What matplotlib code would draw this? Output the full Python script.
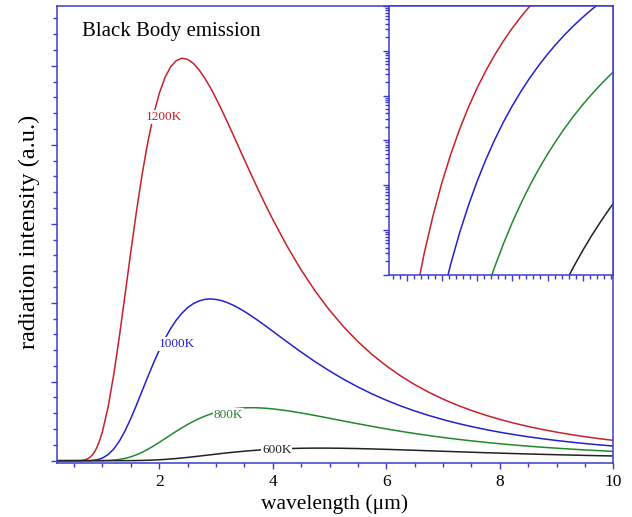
import matplotlib
matplotlib.use("Agg")
import matplotlib.pyplot as plt
from matplotlib.ticker import MultipleLocator, LogLocator, NullFormatter

plt.rcParams['font.family'] = ['Liberation Serif', 'DejaVu Serif']

# spectral radiance, W m^-2 sr^-1 um^-1, sampled at these wavelengths (um)
wavelength = [0.2, 0.3, 0.325, 0.35, 0.375, 0.4, 0.425, 0.45, 0.475, 0.5, 0.525,
              0.55, 0.575, 0.6, 0.625, 0.65, 0.675, 0.7, 0.725, 0.75, 0.775,
              0.8, 0.825, 0.85, 0.875, 0.9, 0.95, 1.0, 1.1, 1.2, 1.3, 1.4, 1.5,
              1.6, 1.7, 1.8, 1.9, 2.0, 2.1, 2.2, 2.3, 2.4, 2.5, 2.6, 2.7, 2.8,
              2.9, 3.0, 3.1, 3.2, 3.3, 3.4, 3.5, 3.6, 3.7, 3.8, 3.9, 4.0, 4.25,
              4.5, 4.75, 5.0, 5.25, 5.5, 5.75, 6.0, 6.25, 6.5, 6.75, 7.0, 7.25,
              7.5, 7.75, 8.0, 8.25, 8.5, 8.75, 9.0, 9.25, 9.5, 9.75, 10.0]

radiance_1200 = [3.4e-15, 2.15e-7, 3.12e-6, 3.01e-5, 2.09e-4, 1.12e-3, 4.81e-3,
                 1.73e-2, 5.37e-2, 0.147, 0.361, 0.805, 1.666, 3.21, 5.82, 10.0,
                 16.41, 25.8, 39.07, 57.2, 81.4, 112.6, 152.1, 200.8, 260.0,
                 330.2, 508.2, 739.1, 1365.1, 2191.3, 3167.3, 4226.4, 5298.6,
                 6324.4, 7261.3, 8076.7, 8756.3, 9295.0, 9697.4, 9971.7, 10130.1,
                 10190.0, 10161.0, 10061.0, 9899.8, 9692.4, 9447.9, 9175.2,
                 8882.1, 8575.9, 8261.3, 7942.1, 7622.9, 7307.4, 6997.1, 6692.4,
                 6397.1, 6110.3, 5437.5, 4831.4, 4289.7, 3810.8, 3388.1, 3016.0,
                 2688.8, 2402.0, 2149.4, 1927.5, 1731.8, 1559.3, 1406.7, 1271.7,
                 1152.0, 1045.5, 950.9, 866.3, 790.8, 723.0, 662.2, 607.7, 558.4,
                 514.1]

radiance_1000 = [2.1e-20, 7.26e-11, 1.95e-9, 3.18e-8, 3.49e-7, 2.78e-6, 1.70e-5,
                 8.39e-5, 3.44e-4, 1.21e-3, 3.74e-3, 1.03e-2, 2.58e-2, 5.90e-2,
                 0.1255, 0.2502, 0.470, 0.840, 1.429, 2.339, 3.687, 5.619, 8.309,
                 11.95, 16.78, 22.99, 40.73, 67.19, 154.3, 297.0, 500.7, 762.1,
                 1070.9, 1412.4, 1770.6, 2129.4, 2475.3, 2797.6, 3088.6, 3343.0,
                 3558.7, 3735.6, 3873.7, 3976.2, 4044.8, 4083.2, 4095.2, 4083.4,
                 4051.6, 4002.4, 3939.2, 3863.9, 3779.3, 3687.3, 3590.0, 3488.1,
                 3383.6, 3277.4, 3010.7, 2750.4, 2502.9, 2272.4, 2060.0, 1866.2,
                 1690.2, 1531.5, 1388.4, 1259.8, 1144.2, 1040.6, 947.4, 863.8,
                 788.7, 721.1, 660.2, 605.4, 555.9, 511.1, 470.6, 433.9, 400.6,
                 370.4]

radiance_800 = [3.3e-28, 4.51e-16, 3.04e-14, 1.09e-12, 2.38e-11, 3.46e-10, 3.60e-9,
                2.84e-8, 1.77e-7, 9.10e-7, 3.95e-6, 1.49e-5, 4.94e-5, 1.47e-4,
                3.98e-4, 9.89e-4, 2.28e-3, 4.92e-3, 1.00e-2, 1.93e-2, 3.56e-2,
                6.27e-2, 0.1062, 0.1737, 0.2750, 0.4224, 0.9231, 1.841, 5.865,
                14.83, 31.47, 58.37, 97.33, 149.1, 213.4, 288.6, 372.6, 462.8,
                556.6, 651.0, 743.8, 832.9, 916.7, 993.9, 1063.6, 1125.2, 1178.7,
                1224.0, 1261.3, 1290.9, 1313.1, 1328.6, 1338.0, 1341.7, 1340.5,
                1334.6, 1324.9, 1311.5, 1266.1, 1208.4, 1142.9, 1073.9, 1003.9,
                934.9, 868.2, 804.6, 744.6, 688.5, 636.2, 587.7, 543.0, 501.8,
                464.0, 429.1, 397.2, 367.8, 341.0, 316.3, 293.6, 272.9, 253.8,
                236.3]

radiance_600 = [3.2e-41, 9.46e-25, 2.96e-22, 3.98e-20, 2.72e-18, 1.07e-16,
                2.69e-15, 4.65e-14, 5.85e-13, 5.65e-12, 4.35e-11, 2.75e-10,
                1.47e-9, 6.73e-9, 2.71e-8, 9.76e-8, 3.17e-7, 9.38e-7, 2.57e-6,
                6.53e-6, 1.55e-5, 3.49e-5, 7.41e-5, 1.50e-4, 2.91e-4, 5.40e-4,
                1.678e-3, 4.587e-3, 2.520e-2, 0.1003, 0.3127, 0.806, 1.788,
                3.518, 6.276, 10.32, 15.88, 23.10, 32.03, 42.66, 54.86, 68.48,
                83.27, 98.98, 115.34, 132.07, 148.89, 165.58, 181.89, 197.65,
                212.70, 226.91, 240.14, 252.37, 263.57, 273.63, 282.60, 290.47,
                305.56, 314.55, 318.21, 317.53, 313.28, 306.31, 297.24, 286.73,
                275.22, 263.11, 250.67, 238.24, 225.90, 213.87, 202.18, 190.94,
                180.17, 169.92, 160.21, 150.97, 142.25, 134.05, 126.34, 119.09]

temperatures = ["1200K", "1000K", "800K", "600K"]
curves = [radiance_1200, radiance_1000, radiance_800, radiance_600]
colors = ["#c8202a", "#2222cc", "#23882a", "#222222"]

# where each temperature tag sits on the main plot (um, radiance)
tag_pos = [(2.09, 8700), (2.31, 2950), (3.22, 1160), (4.07, 270)]

spine_col = "#3a3acc"

fig = plt.figure(figsize=(6.32, 5.17), dpi=100)
ax = fig.add_axes([0.0894, 0.1039, 0.881, 0.8845])

for rad, col in zip(curves, colors):
    ax.plot(wavelength, rad, color=col, lw=1.1, zorder=2)

for name, (tx, ty), col in zip(temperatures, tag_pos, colors):
    ax.text(tx, ty, name, color=col, fontsize=9.5, ha='center', va='center',
            zorder=3, bbox=dict(facecolor='white', edgecolor='none', pad=0.6))

ax.set_xlim(0.19, 10)
ax.set_ylim(-66, 11513)
ax.xaxis.set_major_locator(MultipleLocator(2))
ax.xaxis.set_minor_locator(MultipleLocator(0.5))
ax.yaxis.set_major_locator(MultipleLocator(2000))
ax.yaxis.set_minor_locator(MultipleLocator(400))
ax.yaxis.set_major_formatter(NullFormatter())
ax.tick_params(which='both', direction='out', color=spine_col, width=1.0,
               top=False, right=False, labelsize=12.5, pad=3)
ax.tick_params(which='major', length=4.5)
ax.tick_params(which='minor', length=2.6)
for sp in ax.spines.values():
    sp.set_color(spine_col)
    sp.set_linewidth(1.1)

ax.set_xlabel("wavelength (\u03bcm)", fontsize=15.5, labelpad=3)
ax.set_ylabel("radiation intensity (a.u.)", fontsize=17.5)
ax.yaxis.set_label_coords(-0.03, 0.505)
ax.text(0.045, 0.944, "Black Body emission", transform=ax.transAxes,
        fontsize=15, ha='left', va='center')

# inset: onset of emission on a log scale
ins = fig.add_axes([0.6155, 0.4687, 0.354, 0.5197])
for rad, col in zip(curves, colors):
    ins.plot(wavelength, rad, color=col, lw=1.1)
ins.set_xlim(0.25, 0.885)
ins.set_yscale('log')
ins.set_ylim(1e-5, 1e1)
ins.xaxis.set_major_locator(MultipleLocator(0.1))
ins.xaxis.set_minor_locator(MultipleLocator(0.02))
ins.yaxis.set_major_locator(LogLocator(base=10, numticks=10))
ins.yaxis.set_minor_locator(LogLocator(base=10, subs=range(2, 10), numticks=20))
ins.xaxis.set_major_formatter(NullFormatter())
ins.xaxis.set_minor_formatter(NullFormatter())
ins.yaxis.set_major_formatter(NullFormatter())
ins.yaxis.set_minor_formatter(NullFormatter())
ins.tick_params(which='both', direction='out', color=spine_col, width=1.0,
                top=False, right=False)
ins.tick_params(which='major', length=4.5)
ins.tick_params(which='minor', length=2.6)
for sp in ins.spines.values():
    sp.set_color(spine_col)
    sp.set_linewidth(1.1)

fig.savefig("out.png", dpi=100)
